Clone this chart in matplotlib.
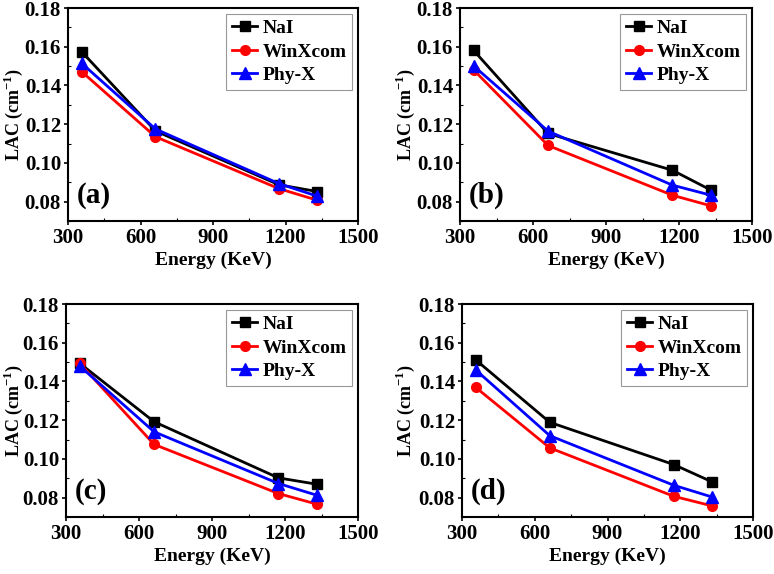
import matplotlib
matplotlib.use("Agg")
import matplotlib.pyplot as plt
from matplotlib.ticker import MultipleLocator

plt.rcParams['font.family'] = ['Liberation Serif', 'DejaVu Serif']
plt.rcParams['font.weight'] = 'bold'
plt.rcParams['mathtext.fontset'] = 'custom'
plt.rcParams['mathtext.rm'] = 'Liberation Serif:bold'
plt.rcParams['mathtext.bf'] = 'Liberation Serif:bold'

energy = [356, 662, 1173, 1332]
panels = ['(a)', '(b)', '(c)', '(d)']
nai = [
    [0.1575, 0.1165, 0.0887, 0.0852],
    [0.1581, 0.1152, 0.0962, 0.0859],
    [0.1494, 0.1192, 0.0902, 0.0869],
    [0.1512, 0.1189, 0.0971, 0.0881],
]
winxcom = [
    [0.1472, 0.1135, 0.0867, 0.0807],
    [0.1480, 0.1090, 0.0833, 0.0778],
    [0.1494, 0.1075, 0.0821, 0.0766],
    [0.1370, 0.1057, 0.0807, 0.0757],
]
phyx = [
    [0.1515, 0.1175, 0.0893, 0.0828],
    [0.1501, 0.1164, 0.0885, 0.0833],
    [0.1480, 0.1140, 0.0873, 0.0812],
    [0.1460, 0.1120, 0.0864, 0.0803],
]

fig = plt.figure(figsize=(7.74, 5.74), dpi=100)
W, H = 774, 574
boxes = [(68, 8, 358, 221), (460, 8, 752, 221), (66, 304, 358, 517), (462, 304, 753, 517)]
label_right = [25, 417, 25, 417]

for i, (l, t, r, b) in enumerate(boxes):
    ax = fig.add_axes([l / W, 1 - b / H, (r - l) / W, (b - t) / H])
    ax.plot(energy, nai[i], '-s', color='black', lw=2, ms=7, label='NaI')
    ax.plot(energy, winxcom[i], '-o', color='red', lw=2, ms=7, label='WinXcom')
    ax.plot(energy, phyx[i], '-^', color='blue', lw=2, ms=8, label='Phy-X')
    ax.set_xlim(300, 1500)
    ax.set_ylim(0.07, 0.18)
    ax.set_xticks([300, 600, 900, 1200, 1500])
    ax.set_yticks([0.08, 0.10, 0.12, 0.14, 0.16, 0.18])
    ax.xaxis.set_minor_locator(MultipleLocator(150))
    ax.yaxis.set_minor_locator(MultipleLocator(0.01))
    ax.tick_params(which='major', direction='out', length=3, width=1.2, labelsize=15, pad=2)
    ax.tick_params(which='minor', direction='in', length=2, width=0.8)
    ax.set_yticklabels(['0.08', '0.10', '0.12', '0.14', '0.16', '0.18'])
    for s in ax.spines.values():
        s.set_linewidth(1.5)
    ax.set_xlabel('Energy (KeV)', fontsize=14, fontweight='bold', labelpad=3)
    ax.set_ylabel(r'LAC (cm$^{\mathbf{-1}}$)', fontsize=13, fontweight='bold')
    ax.yaxis.set_label_coords((label_right[i] - l) / (r - l), 0.5)
    ax.text(0.03, 0.12, panels[i], transform=ax.transAxes, fontsize=21, fontweight='bold',
            va='center', ha='left')
    leg = ax.legend(loc='upper right', fontsize=14, handlelength=1.3, handletextpad=0.25,
                    borderpad=0.3, labelspacing=0.3, fancybox=False, framealpha=1,
                    borderaxespad=0.3)
    leg.get_frame().set_edgecolor('#999999')
    leg.get_frame().set_linewidth(0.8)

fig.savefig('out.png', dpi=100)
